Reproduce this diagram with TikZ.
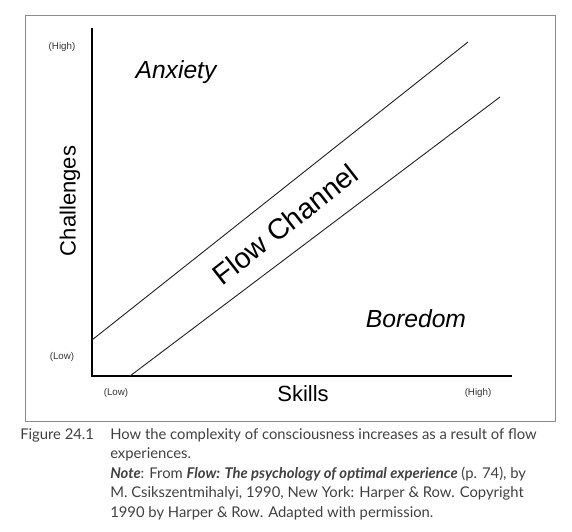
\documentclass[tikz,border=0pt]{standalone}
\usepackage{fontspec}
\setsansfont{Liberation Sans}
\newfontfamily\capfont{Lato}
\usetikzlibrary{positioning}
\tikzset{
  axis_l/.style = {draw=black, line width=0.8pt},
  chan_l/.style = {draw=black!85, line width=0.7pt},% bords du canal
  tick_t/.style = {font=\sffamily\fontsize{7.3}{8}\selectfont, text=black!80, inner sep=0pt},
  zone_t/.style = {font=\sffamily\itshape\fontsize{18.5}{20}\selectfont, inner sep=0pt},
  ax_t/.style = {font=\sffamily\fontsize{16.5}{18}\selectfont, inner sep=0pt},
  cap_t/.style = {font=\capfont\fontsize{11.1}{14.6}\selectfont, text=black!75,
    inner sep=0pt, anchor=north west, align=left},
}

\begin{document}
\begin{tikzpicture}[x=0.75pt,y=-0.75pt]
\useasboundingbox (0,0) rectangle (572,532);
% cadre
\draw [black!45, line width=0.6pt] (25,15) rectangle (555,421);
% axes
\coordinate (O) at (92,376);
\coordinate (ytop) at (92,28);
\coordinate (xend) at (512,376);
\draw [axis_l] (ytop) -- (O) -- (xend);
% canal
\coordinate (up_s) at (92,340);
\coordinate (up_e) at (468,42);
\coordinate (lo_s) at (130,376);
\coordinate (lo_e) at (500,97);
\draw [chan_l] (up_s) -- (up_e);
\draw [chan_l] (lo_s) -- (lo_e);
% textes
\node [tick_t] (yhigh) at (62,47) {(High)};
\node [tick_t] (ylow) at (62,357) {(Low)};
\node [tick_t] (xlow) at (116,393) {(Low)};
\node [tick_t] (xhigh) at (478,393) {(High)};
\node [ax_t, rotate=90] (chal) at (70,201) {Challenges};
\node [ax_t] (skills) at (303,394) {Skills};
\node [zone_t] (anx) at (176,72) {Anxiety};
\node [zone_t] (bore) at (416,319) {Boredom};
\node [font=\sffamily\fontsize{21.5}{23}\selectfont, inner sep=0pt, rotate=38] (flow) at (285,224) {Flow Channel};
% legende
\node [cap_t] (fig) at (20,428) {Figure 24.1};
\node [cap_t] (cap) at (110,428) {How the complexity of consciousness increases as a result of flow\\
experiences.\\
\textbf{\textit{Note}}: From \textbf{\textit{Flow: The psychology of optimal experience}} (p. 74), by\\
M. Csikszentmihalyi, 1990, New York: Harper \& Row. Copyright\\
1990 by Harper \& Row. Adapted with permission.};
\end{tikzpicture}
\end{document}
